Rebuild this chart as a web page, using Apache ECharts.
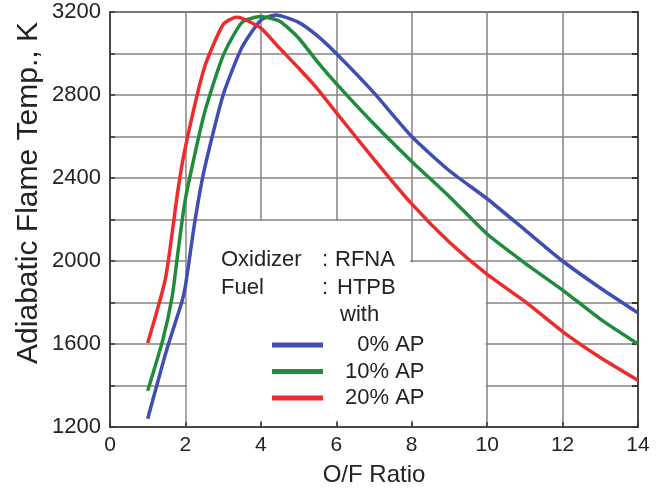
<!DOCTYPE html>
<html><head><meta charset="utf-8">
<script src="https://cdn.jsdelivr.net/npm/echarts@6/dist/echarts.min.js"></script>
<style>html,body{margin:0;padding:0;background:#fff}#c{width:667px;height:489px}</style>
</head><body><div id="c"></div>
<script>
// ---- data ----
const seriesNames = ['\u20070% AP', '10% AP', '20% AP'];
const ofRatio0 = [1, 1.5, 1.9, 2, 2.25, 2.5, 3, 3.5, 4, 4.4, 5, 5.5, 6, 7, 8, 9, 10, 11, 12, 13, 14];
const temp0    = [1240, 1570, 1800, 1880, 2190, 2440, 2800, 3030, 3160, 3185, 3150, 3085, 3000, 2810, 2600, 2435, 2300, 2150, 2000, 1870, 1750];
const ofRatio10 = [1, 1.4, 1.65, 1.8, 2, 2.5, 3, 3.5, 4, 4.5, 5, 5.5, 6, 7, 8, 9, 10, 11, 12, 13, 14];
const temp10    = [1375, 1620, 1830, 2040, 2300, 2710, 2990, 3150, 3178, 3155, 3075, 2960, 2855, 2660, 2480, 2310, 2130, 1990, 1860, 1720, 1600];
const ofRatio20 = [1, 1.47, 1.8, 2, 2.5, 3, 3.35, 3.5, 4, 4.5, 5, 5.5, 6, 7, 8, 9, 10, 11, 12, 13, 14];
const temp20    = [1605, 1915, 2340, 2550, 2930, 3140, 3175, 3170, 3122, 3025, 2930, 2830, 2715, 2490, 2275, 2090, 1935, 1805, 1660, 1535, 1425];
const xTickLabels = [0, 2, 4, 6, 8, 10, 12, 14];
const yTickLabels = [1200, 1600, 2000, 2400, 2800, 3200];
const colors = ['#3f4db5', '#1f8c3b', '#ee2b2b'];

const FONT = '"Liberation Sans", Arial, Helvetica, sans-serif';
const gridColor = '#8a8080';
const axisColor = '#3a3434';
const zip = (xs, ys) => xs.map((x, i) => [x, ys[i]]);

const chart = echarts.init(document.getElementById('c'));
chart.setOption({
  animation: false,
  backgroundColor: '#fff',
  textStyle: { fontFamily: FONT },
  grid: { left: 110, right: 29, top: 12, bottom: 62, show: true, borderColor: axisColor, borderWidth: 1.5,
    backgroundColor: 'transparent', containLabel: false, outerBoundsMode: 'none' },
  legend: {
    left: 267, top: 329, orient: 'vertical', icon: 'rect',
    itemWidth: 51, itemHeight: 5, itemGap: 4.5,
    textStyle: { fontSize: 22, color: '#222', fontFamily: FONT, lineHeight: 22, padding: [0, 0, 0, 17] },
    data: seriesNames
  },
  xAxis: {
    type: 'value', min: 0, max: 14, interval: 2,
    name: 'O/F Ratio', nameLocation: 'middle', nameGap: 36,
    nameTextStyle: { fontSize: 24, color: '#222', fontFamily: FONT },
    axisLine: { lineStyle: { color: axisColor, width: 1.5 } },
    axisTick: { inside: true, length: 5, lineStyle: { color: axisColor, width: 1.5 } },
    axisLabel: { fontSize: 21, color: '#222', margin: 8, fontFamily: FONT,
      formatter: v => xTickLabels.includes(v) ? String(v) : '' },
    splitLine: { show: true, lineStyle: { color: gridColor, width: 1.5 } }
  },
  yAxis: [{
    type: 'value', min: 1200, max: 3200, interval: 200,
    axisLine: { show: true, lineStyle: { color: axisColor, width: 1.5 } },
    axisTick: { show: true, inside: true, length: 5, lineStyle: { color: axisColor, width: 1.5 } },
    axisLabel: { fontSize: 22, color: '#222', margin: 9, fontFamily: FONT,
      formatter: v => yTickLabels.includes(v) ? String(v) : '' },
    splitLine: { show: true, lineStyle: { color: gridColor, width: 1.5 } }
  }, {
    type: 'value', min: 1200, max: 3200, interval: 200, position: 'right',
    axisLine: { show: true, lineStyle: { color: axisColor, width: 1.5 } },
    axisTick: { show: true, inside: true, length: 6, lineStyle: { color: axisColor, width: 2 } },
    axisLabel: { show: false }, splitLine: { show: false }
  }],
  series: [
    { name: seriesNames[0], type: 'line', data: zip(ofRatio0, temp0), symbol: 'none', smooth: 0.2, z: 5,
      lineStyle: { width: 3.5, color: colors[0] }, itemStyle: { color: colors[0] } },
    { name: seriesNames[1], type: 'line', data: zip(ofRatio10, temp10), symbol: 'none', smooth: 0.2, z: 5,
      lineStyle: { width: 3.5, color: colors[1] }, itemStyle: { color: colors[1] } },
    { name: seriesNames[2], type: 'line', data: zip(ofRatio20, temp20), symbol: 'none', smooth: 0.2, z: 5,
      lineStyle: { width: 3.5, color: colors[2] }, itemStyle: { color: colors[2] } }
  ]
});

// white legend panel covering grid lines + annotation text + y-axis title
const p = (x, y) => chart.convertToPixel({ xAxisIndex: 0, yAxisIndex: 0 }, [x, y]);
const a = p(2, 2200), b = p(8, 1200), c = p(2, 2000), d = p(10, 1200);
const tf = '22px ' + FONT;
const txt = (t, x, y) => ({ type: 'text', x: x, y: y, z: 6, silent: true,
  style: { text: t, font: tf, fill: '#222', verticalAlign: 'middle', align: 'left' } });
chart.setOption({
  graphic: [
    { type: 'rect', z: 1, silent: true, shape: { x: a[0] + 1.5, y: a[1] + 1.5, width: b[0] - a[0] - 3, height: b[1] - a[1] - 8 }, style: { fill: '#fff' } },
    { type: 'rect', z: 1, silent: true, shape: { x: c[0] + 1.5, y: c[1] + 1.5, width: d[0] - c[0] - 3, height: d[1] - c[1] - 8 }, style: { fill: '#fff' } },
    txt('Oxidizer', 221, 260), txt(':', 322, 260), txt('RFNA', 335, 260),
    txt('Fuel', 221, 288), txt(':', 322, 288), txt('HTPB', 337, 288),
    txt('with', 340, 315),
    { type: 'text', x: 29, y: 193, rotation: Math.PI / 2, z: 6, silent: true,
      style: { text: 'Adiabatic Flame Temp., K', font: '30px ' + FONT, fill: '#222', align: 'center', verticalAlign: 'middle' } }
  ]
});
</script>
</body></html>
